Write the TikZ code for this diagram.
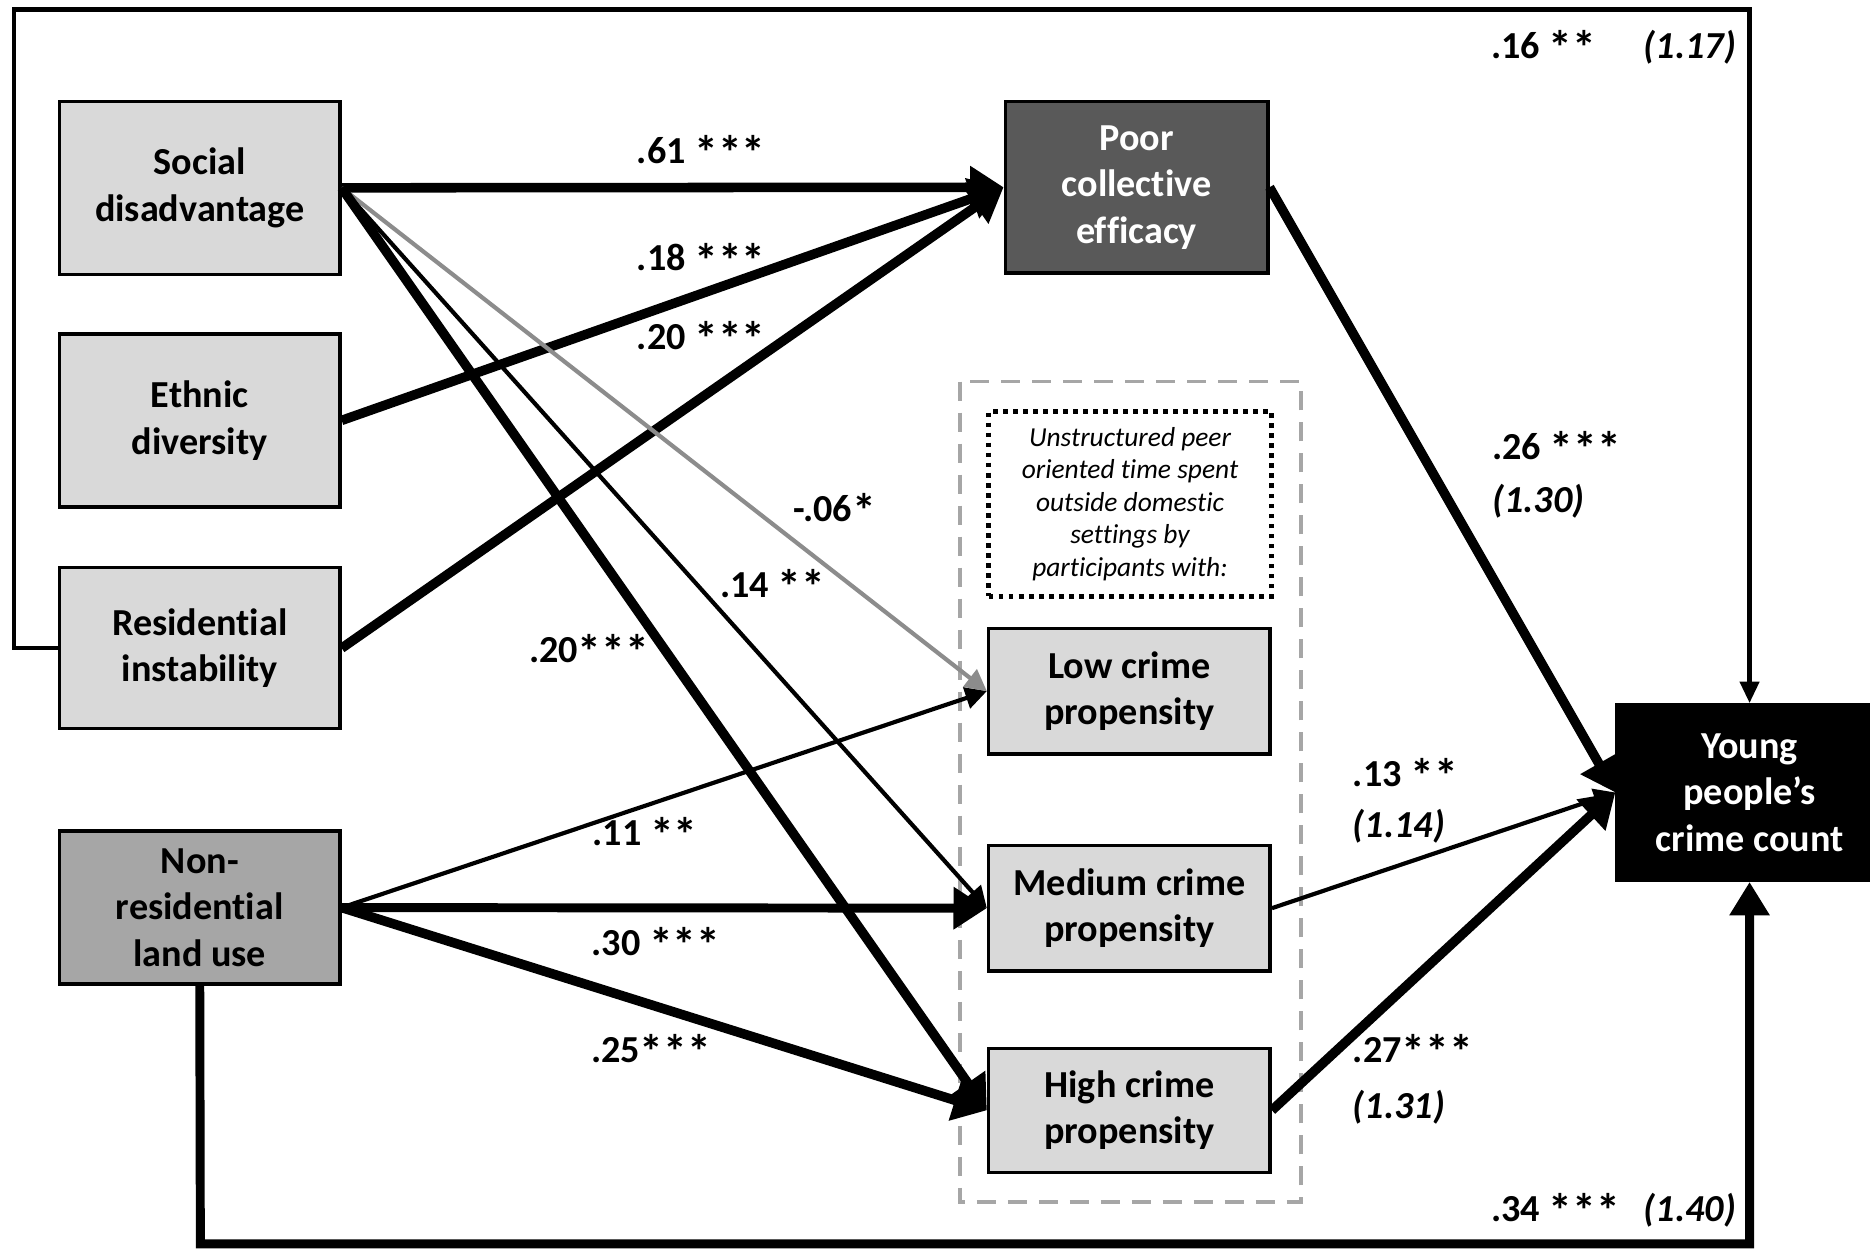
\documentclass[tikz,border=0pt]{standalone}
\usepackage{fontspec}
\setmainfont[RawFeature=-liga]{Carlito}
\usetikzlibrary{arrows.meta}
\definecolor{boxgray}{HTML}{D9D9D9}
\definecolor{landgray}{HTML}{A6A6A6}
\definecolor{darkbox}{HTML}{595959}
\definecolor{paleline}{HTML}{8C8C8C}
\definecolor{dashgray}{HTML}{A6A6A6}
% significance star, drawn a little larger than the font's own
\newcommand\sg{\raisebox{-0.16em}{\scalebox{1.25}{*}}}
\begin{document}
\begin{tikzpicture}[x=0.5pt,y=-0.5pt,
  box/.style={draw=black, line width=1.5pt, fill=boxgray, align=center, inner sep=0pt,
    font=\bfseries\fontsize{16}{19.5}\selectfont},
  coef/.style={font=\bfseries\fontsize{16}{19}\selectfont, inner sep=0pt},
  odds/.style={font=\bfseries\itshape\fontsize{16}{19}\selectfont, inner sep=0pt},
  heavy/.style={line width=4pt, -{Triangle[length=14pt,width=17pt]}},
  light/.style={line width=1.75pt, -{Triangle[length=9pt,width=9pt]}},
  frame/.style={line width=1.75pt, line join=miter},
]
\useasboundingbox (0,0) rectangle (1568,1048);
\fill[white] (0,0) rectangle (1568,1048);

% group of propensity outcomes
\draw[dashgray, line width=1.5pt, dash pattern=on 8pt off 5pt] (805,320) rectangle (1091,1008);
\node[draw=black, line width=2pt, dash pattern=on 2pt off 2.2pt, align=center, inner sep=0pt,
  minimum width=118.5pt, minimum height=77.5pt, font=\itshape\fontsize{11.5}{13.6}\selectfont]
  (note) at (947.5,422.5) {Unstructured peer\\oriented time spent\\outside domestic\\settings by\\participants with:};

% boxes
\node[box, minimum width=117.5pt, minimum height=72.5pt] (sd) at (167.5,157.5) {Social\\disadvantage};
\node[box, minimum width=117.5pt, minimum height=72.5pt] (ed) at (167.5,352.5) {Ethnic\\diversity};
\node[box, minimum width=117.5pt, minimum height=67.5pt] (ri) at (167.5,543.5) {Residential\\instability};
\node[box, fill=landgray, minimum width=117.5pt, minimum height=64pt] (nr) at (167.5,761) {Non-\\residential\\land use};
\node[box, fill=darkbox, text=white, minimum width=110pt, minimum height=72pt] (pce) at (953,157) {Poor\\collective\\efficacy};
\node[box, minimum width=118pt, minimum height=52.5pt] (low) at (947,579.5) {Low crime\\propensity};
\node[box, minimum width=118pt, minimum height=52.5pt] (med) at (947,761.5) {Medium crime\\propensity};
\node[box, minimum width=118pt, minimum height=52pt] (high) at (947,931) {High crime\\propensity};
\node[box, fill=black, text=white, minimum width=111pt, minimum height=73.5pt] (ypc) at (1467,664.5) {Young\\people’s\\crime count};

% frame paths
\coordinate (tl) at (12,8);
\coordinate (tr) at (1467,8);
\coordinate (bl) at (168,1043);
\coordinate (br) at (1467,1043);
\draw[frame, -{Triangle[length=9pt,width=8pt]}] (ri.west) -| (tl) -- (tr) -- (ypc.north);
\draw[frame, line width=3.75pt, -{Triangle[length=14pt,width=16pt]}] (nr.south) -- (bl) -- (br) -- (ypc.south);

% paths to collective efficacy
\draw[heavy] (sd.east) -- (pce.west);
\draw[heavy] (ed.east) -- (pce.west);
\draw[heavy] (ri.east) -- (pce.west);

% paths to propensity groups
\draw[light, paleline] (sd.east) -- (low.west);
\draw[light] (sd.east) -- (med.west);
\draw[heavy] (sd.east) -- (high.west);
\draw[light] (nr.east) -- (low.west);
\draw[heavy, line width=3.75pt] (nr.east) -- (med.west);
\draw[heavy] (nr.east) -- (high.west);

% paths to crime count
\draw[heavy] (pce.east) -- (ypc.west);
\draw[light] (med.east) -- (ypc.west);
\draw[heavy] (high.east) -- (ypc.west);

% coefficients
\node[coef] (c1) at (588,128) {.61 \sg\sg\sg};
\node[coef] (c2) at (588,218) {.18 \sg\sg\sg};
\node[coef] (c3) at (588,284) {.20 \sg\sg\sg};
\node[coef] (c4) at (700,428) {-.06\sg};
\node[coef] (c5) at (648,492) {.14 \sg\sg};
\node[coef] (c6) at (494,546) {.20\sg\sg\sg};
\node[coef] (c7) at (541,700) {.11 \sg\sg};
\node[coef] (c8) at (550,792) {.30 \sg\sg\sg};
\node[coef] (c9) at (546,882) {.25\sg\sg\sg};
\node[coef, anchor=west] (c10) at (1251,376) {.26 \sg\sg\sg};
\node[odds, anchor=west] (o10) at (1251,420) {(1.30)};
\node[coef, anchor=west] (c11) at (1134,650) {.13 \sg\sg};
\node[odds, anchor=west] (o11) at (1134,693) {(1.14)};
\node[coef, anchor=west] (c12) at (1134,882) {.27\sg\sg\sg};
\node[odds, anchor=west] (o12) at (1134,928) {(1.31)};
\node[coef, anchor=west] (c13) at (1250,40) {.16 \sg\sg};
\node[odds, anchor=east] (o13) at (1456,40) {(1.17)};
\node[coef, anchor=west] (c14) at (1250,1015) {.34 \sg\sg\sg};
\node[odds, anchor=east] (o14) at (1456,1015) {(1.40)};
\end{tikzpicture}
\end{document}
